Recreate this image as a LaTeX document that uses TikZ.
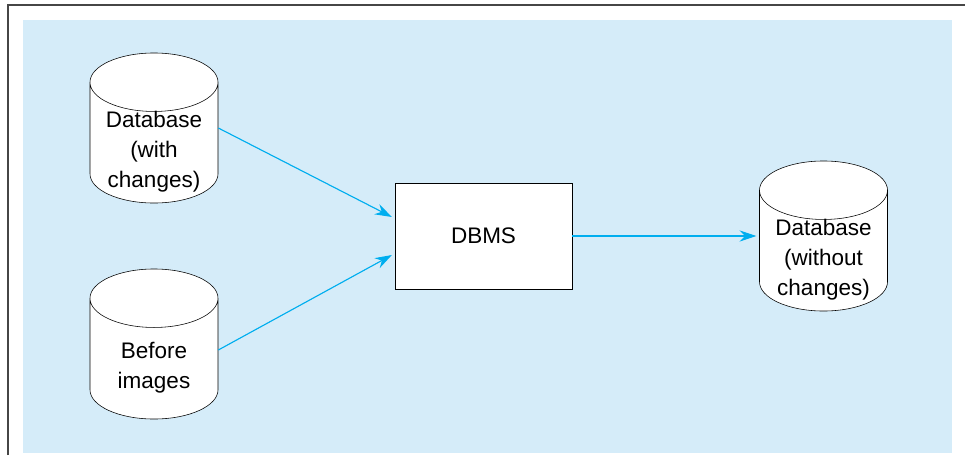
\documentclass[tikz,border=0pt]{standalone}
\usepackage{fontspec}
\setmainfont{Liberation Sans}
\usetikzlibrary{arrows.meta,positioning,shapes.geometric}
\definecolor{bgblue}{RGB}{213,236,249}
\definecolor{flowcyan}{RGB}{0,174,239}
\definecolor{framegray}{RGB}{70,70,70}

\begin{document}
\begin{tikzpicture}[x=0.025cm,y=-0.025cm,>={Stealth[length=12pt,width=8pt]},
  every node/.style={align=center,font=\fontsize{16}{21.3}\selectfont},
  db/.style={draw,fill=white,cylinder,shape border rotate=90,aspect=2.4,minimum width=3.2cm,minimum height=3.75cm,inner sep=2pt,anchor=shape center},
  dbtext/.style={yshift=-0.6cm},
  flow/.style={->,draw=flowcyan,fill=flowcyan,line width=0.8pt}]
\useasboundingbox (0,0) rectangle (965,455);
\fill[bgblue] (23,20) rectangle (952,453);
\draw[framegray,line width=1.2pt] (8,455) -- (8,5) -- (965,5);
\node[db] (dbw) at (154,128) {\phantom{M}};
\node[dbtext] (dbw-txt) at (dbw.shape center) {Database\\(with\\changes)};
\node[db] (bi) at (154,344) {\phantom{M}};
\node[dbtext] (bi-txt) at (bi.shape center) {Before\\images};
\node[draw,fill=white,minimum width=4.425cm,minimum height=2.65cm] (dbms) at (483.5,236) {DBMS};
\node[db] (dbo) at (823.5,236) {\phantom{M}};
\node[dbtext] (dbo-txt) at (dbo.shape center) {Database\\(without\\changes)};
\draw[flow] (dbw.shape center -| dbw.east) -- ([yshift=0.475cm,xshift=-2pt]dbms.west);
\draw[flow] ([yshift=-0.15cm]bi.shape center -| bi.east) -- ([yshift=-0.475cm,xshift=-2pt]dbms.west);
\draw[flow] (dbms.east) -- ([xshift=-2pt]dbms.east -| dbo.west);
\end{tikzpicture}
\end{document}
